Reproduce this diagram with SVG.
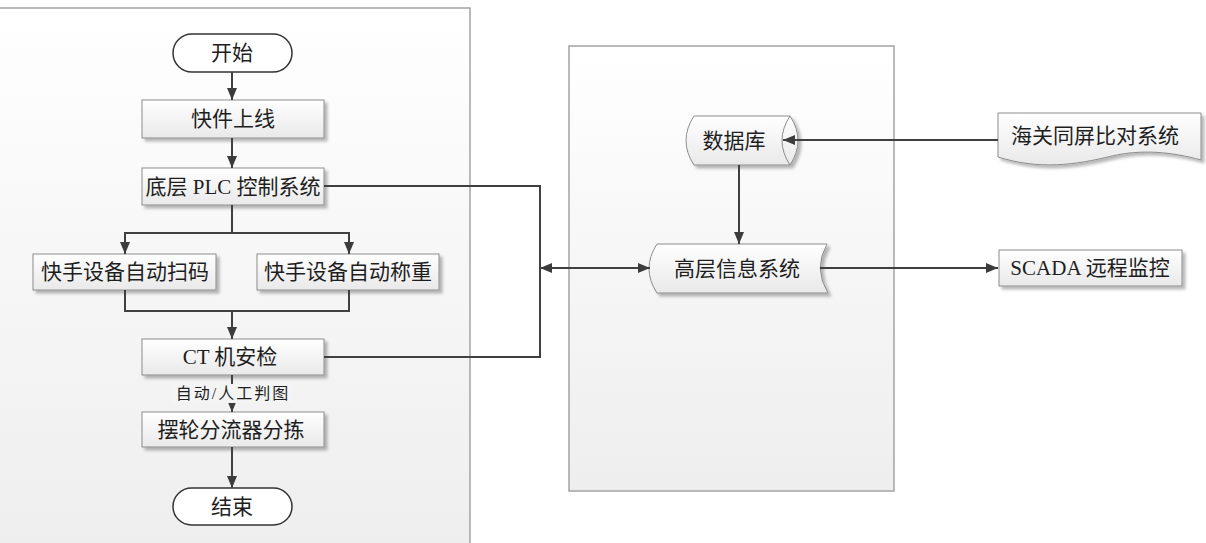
<svg xmlns="http://www.w3.org/2000/svg" width="1206" height="543" viewBox="0 0 1206 543">
<defs>
<linearGradient id="boxg" x1="0" y1="0" x2="0" y2="1">
<stop offset="0" stop-color="#ffffff"/>
<stop offset="1" stop-color="#e9e9e9"/>
</linearGradient>
<linearGradient id="contg" x1="0" y1="0" x2="0" y2="1">
<stop offset="0" stop-color="#ffffff"/>
<stop offset="0.5" stop-color="#f6f6f6"/>
<stop offset="1" stop-color="#eeeeee"/>
</linearGradient>
<filter id="sh" x="-10%" y="-10%" width="130%" height="140%">
<feDropShadow dx="3" dy="3" stdDeviation="1.5" flood-color="#000" flood-opacity="0.28"/>
</filter>
<marker id="ah" viewBox="0 0 12 10" refX="12" refY="5" markerWidth="12" markerHeight="10" markerUnits="userSpaceOnUse" orient="auto-start-reverse">
<path d="M0,0 L12,5 L0,10 z" fill="#3c3c3c"/>
</marker>
<style>
.cont{fill:url(#contg);stroke:#a3a3a3;stroke-width:1.5}
.box{fill:url(#boxg);stroke:#8c8c8c;stroke-width:1;filter:url(#sh)}
.term{fill:#ffffff;stroke:#333333;stroke-width:1.5}
.t{font-family:"Liberation Serif","Noto Sans CJK SC",serif;font-size:21px;fill:#1e1e1e;text-anchor:middle;dominant-baseline:central}
.s{font-size:16px;letter-spacing:2px}
.ln{fill:none;stroke:#404040;stroke-width:2}
.arr{marker-end:url(#ah)}
</style>
</defs>
<g id="containers">
<rect class="cont" x="-5" y="8" width="475" height="545"/>
<rect class="cont" x="569" y="46" width="325" height="445"/>
</g>
<g id="start">
<rect class="term" x="173" y="34" width="119" height="38" rx="19"/>
<text class="t" x="232" y="53">开始</text>
</g>
<g id="online">
<rect class="box" x="142" y="100" width="182" height="38"/>
<text class="t" x="233" y="119">快件上线</text>
</g>
<g id="plc">
<rect class="box" x="142" y="168" width="182" height="37"/>
<text class="t" x="233" y="186.5">底层 PLC 控制系统</text>
</g>
<g id="scan">
<rect class="box" x="33" y="254" width="183" height="36"/>
<text class="t" x="125" y="272">快手设备自动扫码</text>
</g>
<g id="weigh">
<rect class="box" x="257" y="254" width="182" height="36"/>
<text class="t" x="348" y="272">快手设备自动称重</text>
</g>
<g id="ct">
<rect class="box" x="142" y="339" width="182" height="36"/>
<text class="t" x="230" y="357">CT 机安检</text>
</g>
<g id="sort">
<rect class="box" x="142" y="412" width="182" height="35"/>
<text class="t" x="231" y="429.5">摆轮分流器分拣</text>
</g>
<g id="end">
<rect class="term" x="173" y="488" width="119" height="37" rx="18.5"/>
<text class="t" x="232" y="506.5">结束</text>
</g>
<g id="database">
<path class="box" d="M694,116 H790 Q806,140.5 790,165 H694 Q678,140.5 694,116 Z"/>
<path d="M790,116 Q774,140.5 790,165" fill="none" stroke="#8c8c8c" stroke-width="1"/>
<text class="t" x="734" y="140.5">数据库</text>
</g>
<g id="highlevel">
<path class="box" d="M657,244 H827 Q813,268.5 828,293 H657 Q641,268.5 657,244 Z"/>
<text class="t" x="737" y="268.5">高层信息系统</text>
</g>
<g id="customs">
<path class="box" d="M998,113 H1201 V160 C1172,152 1142,149 1112,156 C1075,165 1040,170 998,157 Z"/>
<text class="t" x="1095" y="136">海关同屏比对系统</text>
</g>
<g id="scada">
<rect class="box" x="999" y="250" width="183" height="36"/>
<text class="t" x="1090" y="268">SCADA 远程监控</text>
</g>
<g id="connectors">
<path class="ln arr" d="M232,72 V100"/>
<path class="ln arr" d="M232,138 V168"/>
<path class="ln arr" d="M232,205 V233 H125 V254"/>
<path class="ln arr" d="M232,233 H349 V254"/>
<path class="ln" d="M125,290 V311 H349 V290"/>
<path class="ln arr" d="M232,311 V339"/>
<path class="ln arr" d="M232,375 V412"/>
<path class="ln arr" d="M232,447 V488"/>
<path class="ln" d="M324,186 H540 V357 H324"/>
<path class="ln arr" style="marker-start:url(#ah)" d="M540,268 H650"/>
<path class="ln arr" d="M998,140 H783"/>
<path class="ln arr" d="M739,165 V244"/>
<path class="ln arr" d="M820,268 H998"/>
</g>
<g id="label-judge">
<rect x="172" y="384" width="121" height="19" fill="#f4f4f4"/>
<text class="t s" x="233" y="393">自动/人工判图</text>
</g>
</svg>
